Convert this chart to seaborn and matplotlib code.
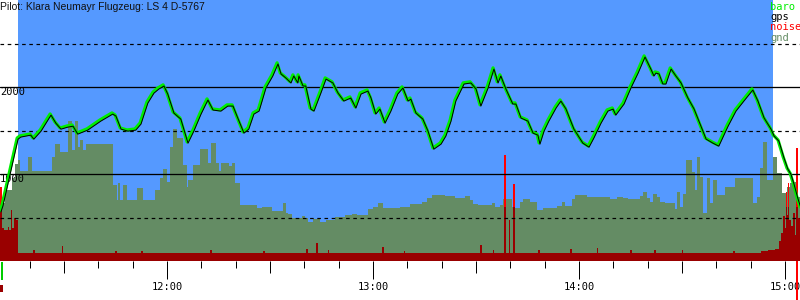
import matplotlib
matplotlib.use("Agg")
import matplotlib.pyplot as plt
import matplotlib.patches as mpatches
from matplotlib import transforms
import seaborn as sns
import pandas as pd
import numpy as np

# ---------------- data (time in minutes since midnight, altitude in m) ----------------
title = "Pilot: Klara Neumayr Flugzeug: LS 4 D-5767"
legend_names = ["baro", "gps", "noise", "gnd"]
hour_ticks = [720, 780, 840, 900]
hour_labels = ["12:00", "13:00", "14:00", "15:00"]
solid_levels = [1000, 2000]
dashed_levels = [500, 1500, 2500]
level_labels = ["1000", "2000"]
flight_start, flight_end = 676.6, 896.6
x_range = (671.4, 904.4)

baro_t = [671.4, 672.0, 676.4, 677.2, 680.1, 681.0, 683.1, 686.0, 687.4, 688.9, 690.9, 692.4,
          693.8, 696.7, 700.5, 704.0, 704.9, 706.4, 708.4, 710.7, 712.2, 714.2, 716.0, 717.4,
          718.9, 720.0, 721.8, 723.8, 725.9, 727.6, 729.7, 731.7, 733.2, 735.5, 737.5, 739.0,
          740.4, 742.2, 743.6, 745.1, 746.6, 748.6, 750.6, 752.1, 753.0, 754.4, 755.9, 756.7,
          757.9, 758.2, 759.4, 760.2, 761.7, 762.6, 764.6, 766.1, 768.1, 769.6, 771.3, 773.3,
          774.8, 776.3, 778.3, 779.2, 780.6, 781.8, 783.3, 785.0, 787.0, 788.5, 790.0, 790.8,
          792.3, 794.3, 795.8, 797.5, 799.6, 801.0, 802.5, 803.9, 806.3, 808.3, 809.8, 811.2,
          813.3, 815.0, 816.2, 817.0, 818.5, 820.5, 821.4, 822.9, 824.9, 826.4, 827.8, 828.4,
          829.6, 831.0, 833.1, 834.5, 836.0, 838.3, 840.9, 842.7, 844.1, 846.2, 848.2, 849.7,
          850.5, 852.9, 854.9, 857.0, 859.0, 860.7, 861.6, 862.2, 863.1, 864.2, 865.1, 866.6,
          868.0, 869.5, 871.5, 873.3, 874.7, 876.8, 878.8, 880.5, 883.2, 885.5, 887.8, 890.4,
          891.9, 893.7, 895.7, 896.6, 898.0, 899.5, 900.6, 901.5, 902.4, 903.5, 904.4]
baro_alt = [580, 650, 1416, 1440, 1462, 1416, 1508, 1692, 1600, 1531, 1554, 1565,
            1474, 1520, 1623, 1704, 1681, 1531, 1508, 1520, 1589, 1830, 1945, 1991,
            2026, 1934, 1715, 1646, 1370, 1508, 1704, 1865, 1750, 1738, 1796, 1796,
            1658, 1485, 1531, 1704, 1738, 2003, 2141, 2279, 2164, 2118, 2061, 2141,
            2061, 2141, 2026, 2026, 1761, 1738, 1945, 2106, 2061, 1945, 1853, 1888,
            1773, 1934, 1968, 1888, 1704, 1761, 1600, 1738, 1934, 2003, 1853, 1876,
            1715, 1646, 1508, 1301, 1359, 1451, 1623, 1853, 2049, 2061, 1991, 1796,
            2003, 2221, 2061, 2141, 1991, 1819, 1819, 1658, 1623, 1485, 1462, 1359,
            1508, 1623, 1773, 1853, 1761, 1531, 1370, 1324, 1428, 1600, 1738, 1761,
            1692, 1819, 2003, 2175, 2359, 2221, 2141, 2175, 2164, 2049, 2049, 2221,
            2141, 2061, 1888, 1761, 1623, 1416, 1370, 1336, 1565, 1738, 1853, 1980,
            1853, 1658, 1531, 1451, 1393, 1198, 1072, 1014, 899, 738, 624]

gnd_t = [671.4, 672.9, 674.9, 675.8, 676.6, 677.2, 679.6, 680.7, 686.5, 687.4, 688.9, 691.2,
         692.4, 693.2, 694.1, 694.7, 695.6, 696.4, 704.3, 705.5, 705.8, 706.4, 707.2, 708.4,
         711.3, 713.0, 716.5, 718.0, 718.9, 720.0, 720.9, 721.8, 723.0, 724.7, 725.9, 726.2,
         727.6, 729.7, 732.0, 732.9, 734.3, 735.2, 735.8, 738.1, 739.0, 739.8, 741.3, 746.3,
         747.7, 750.6, 753.8, 754.7, 755.3, 756.4, 759.4, 760.2, 761.1, 762.6, 764.6, 766.4,
         769.0, 771.9, 773.9, 775.4, 778.6, 780.0, 781.5, 782.9, 787.9, 790.8, 794.3, 795.8,
         797.2, 801.0, 803.9, 806.8, 808.3, 809.2, 810.6, 814.7, 815.6, 817.0, 817.9, 820.5,
         821.4, 822.9, 823.7, 825.8, 827.8, 829.6, 833.6, 835.1, 836.0, 838.0, 838.9, 842.4,
         849.1, 851.1, 852.9, 854.3, 857.8, 858.7, 859.8, 860.7, 861.6, 862.8, 863.6, 865.1,
         868.0, 868.6, 869.5, 870.3, 871.2, 873.0, 873.8, 874.4, 875.3, 876.2, 877.3, 878.2,
         879.1, 880.2, 882.6, 885.5, 890.7, 891.9, 892.8, 893.6, 894.8, 896.6, 897.7, 899.2,
         900.6, 901.5, 902.4, 903.5, 904.4]
gnd_alt = [670, 820, 957, 1118, 1164, 1041, 1199, 1038, 1199, 1348, 1256, 1613,
           1279, 1613, 1314, 1394, 1279, 1348, 877, 705, 900, 705, 877, 705,
           842, 705, 820, 957, 1061, 911, 1314, 1521, 1417, 1107, 854, 934,
           1107, 1291, 1130, 1360, 1130, 1038, 1130, 1095, 1130, 900, 647, 613,
           624, 578, 670, 555, 544, 498, 521, 498, 452, 486, 452, 475,
           510, 532, 544, 532, 601, 624, 670, 613, 624, 659, 682, 728,
           762, 751, 728, 751, 705, 659, 647, 670, 624, 647, 716, 624,
           613, 682, 716, 682, 590, 613, 636, 682, 636, 716, 762, 739,
           716, 739, 728, 716, 751, 797, 728, 682, 774, 739, 682, 670,
           601, 797, 624, 774, 1164, 1026, 820, 1199, 969, 555, 957, 670,
           934, 762, 854, 957, 670, 739, 1072, 1371, 934, 1199, 1015, 785,
           854, 900, 911, 739, 739]

noise_t = [671.4, 672.0, 672.6, 673.7, 674.0, 674.6, 674.9, 675.5, 676.1, 676.6,
           681.0, 681.6, 689.4, 689.8, 705.0, 705.5, 712.5, 713.0, 732.6, 733.0,
           748.0, 748.5, 760.5, 761.0, 763.3, 763.9, 767.0, 767.3, 782.7, 783.1,
           789.0, 789.4, 811.3, 811.7, 815.0, 815.4, 818.3, 818.8, 819.6, 820.0,
           820.9, 821.4, 828.2, 828.6, 837.5, 837.9, 845.2, 845.6, 855.0, 855.4,
           862.0, 862.4, 870.0, 870.4, 885.0, 885.4, 893.0, 895.0, 897.0, 898.3,
           898.9, 899.5, 900.0, 900.3, 900.6, 900.9, 901.2, 901.8, 902.4, 903.0,
           903.3, 903.8, 904.4]
noise_v = [850, 380, 360, 390, 360, 590, 380, 500, 475, 100,
           125, 100, 170, 100, 120, 100, 120, 100, 130, 100,
           120, 100, 140, 100, 210, 100, 130, 100, 160, 100,
           120, 100, 190, 100, 125, 100, 1220, 100, 475, 100,
           890, 100, 130, 100, 140, 100, 150, 100, 125, 100,
           130, 100, 125, 100, 115, 100, 120, 130, 140, 230,
           320, 520, 380, 800, 530, 900, 470, 400, 560, 300,
           1300, 500, 500]

# ---------------- style ----------------
BLUE = "#5599ff"
GND = "#648c64"
DARKRED = "#990000"
RED = "#ff0000"
GREEN = "#00ee00"
MONO = "DejaVu Sans Mono"
PX = 0.72  # points per pixel at dpi 100

sns.set_style("white")
plt.rcParams["font.family"] = ["Liberation Sans", "DejaVu Sans"]

fig = plt.figure(figsize=(8, 3), dpi=100)
ax_h = 261.3 / 300
ax = fig.add_axes([0, 1 - ax_h, 1, ax_h])
ax.set_facecolor("white")
ax.set_xlim(*x_range)
ax.set_ylim(0, 3000)

# flight window
ax.axvspan(flight_start, flight_end, color=BLUE, lw=0, zorder=0)

# ground
ax.fill_between(gnd_t, 0, gnd_alt, step="post", color=GND, lw=0, zorder=1, antialiased=False)

# noise
nt = np.array(noise_t)
nv = np.array(noise_v)
ax.fill_between(nt, 0, nv, step="post", color=DARKRED, lw=0, zorder=2, antialiased=False)
ax.fill_between(nt, 620, np.maximum(nv, 620), step="post", color=RED, lw=0, zorder=2.1,
                antialiased=False)

# level lines
for lv in solid_levels:
    ax.axhline(lv, color="black", lw=1.3 * PX, zorder=3)
for lv in dashed_levels:
    ax.axhline(lv, color="black", lw=1.2 * PX, ls=(0, (3.0, 3.0)), zorder=3)
for lbl, lv in zip(level_labels, solid_levels):
    ax.text(0.0, lv, lbl, transform=transforms.blended_transform_factory(ax.transAxes, ax.transData),
            ha="left", va="top", fontsize=7.5, family=MONO, color="black", zorder=3.5)

# baro + gps lines
df = pd.DataFrame({"t": baro_t, "baro": baro_alt})
sns.lineplot(data=df, x="t", y="baro", ax=ax, color=GREEN, linewidth=3.2 * PX,
             estimator=None, sort=False, zorder=4)
sns.lineplot(data=df, x="t", y="baro", ax=ax, color="black", linewidth=1.0 * PX,
             estimator=None, sort=False, zorder=5)
gps_line = ax.lines[-1]
gps_line.set_transform(transforms.offset_copy(ax.transData, fig=fig, x=0.9, y=-1.2, units="dots"))

# start / landing markers below the axis
bt = transforms.blended_transform_factory(ax.transData, ax.transAxes)
ax.add_patch(mpatches.Rectangle((671.7, -18.7 / 261.3), 0.6, 18 / 261.3, transform=bt,
                                color="#00cc00", lw=0, clip_on=False))
ax.add_patch(mpatches.Rectangle((671.4, -30.7 / 261.3), 0.9, 7 / 261.3, transform=bt,
                                color=DARKRED, lw=0, clip_on=False))
ax.add_patch(mpatches.Rectangle((903.3, -38.7 / 261.3), 0.5, 38.7 / 261.3, transform=bt,
                                color=RED, lw=0, clip_on=False))

# ticks
for s in ax.spines.values():
    s.set_visible(False)
ax.set_yticks([])
ax.set_xticks(hour_ticks)
ax.set_xticklabels(hour_labels, family=MONO, fontsize=7.5)
minor = [m for m in range(680, 905, 10) if m % 30 != 0]
ax.set_xticks(minor, minor=True)
ax.tick_params(axis="x", which="both", bottom=True, top=False, color="black", direction="out")
ax.tick_params(axis="x", which="major", length=18 * PX, width=1.0 * PX, pad=2.5 * PX, labelcolor="black")
ax.tick_params(axis="x", which="minor", length=7 * PX, width=1.0 * PX)
sec = ax.secondary_xaxis("bottom")
sec.set_xticks([m for m in range(690, 905, 60)])
sec.set_xticklabels([])
sec.tick_params(axis="x", bottom=True, length=12 * PX, width=1.0 * PX, direction="out", color="black")
for s in sec.spines.values():
    s.set_visible(False)
ax.set_xlabel("")
ax.set_ylabel("")

# title and legend
fig.text(0.0, 1 - 1.5 / 300, title, ha="left", va="top", fontsize=7.5, color="#111111")
leg_colors = [GREEN, "black", RED, GND]
for i, (name, col) in enumerate(zip(legend_names, leg_colors)):
    fig.text(770 / 800, 1 - (6.5 + 10.5 * i) / 300, name, ha="left", va="center",
             fontsize=7.5, family=MONO, color=col)

fig.savefig("out.png", dpi=100)
